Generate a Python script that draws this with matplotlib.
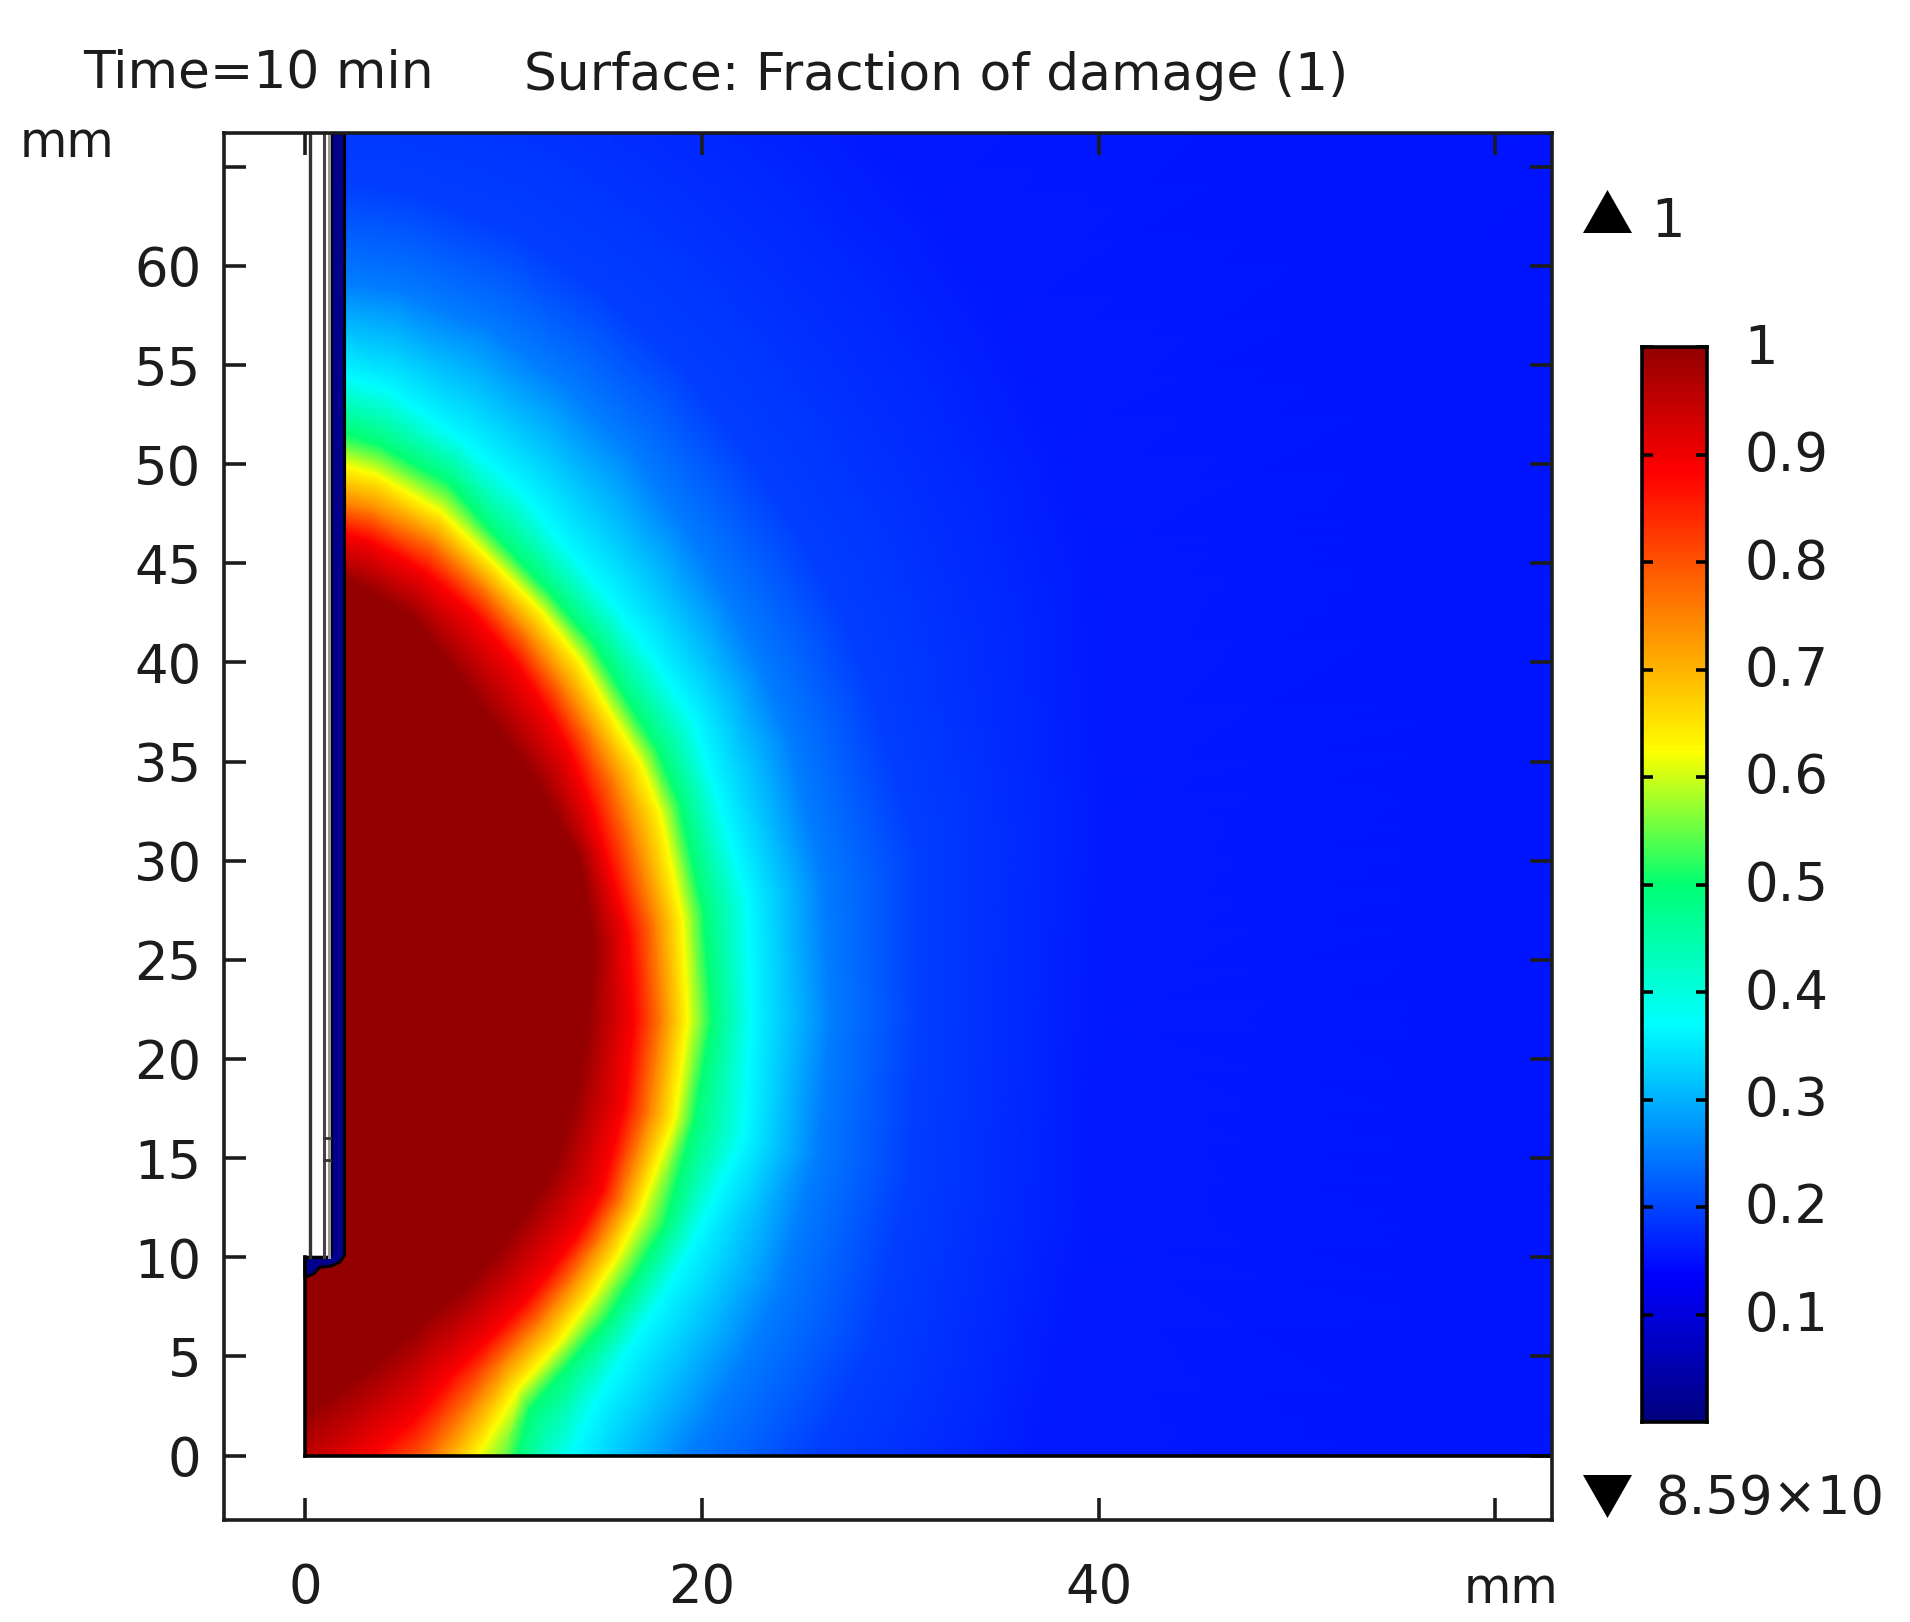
import numpy as np
import matplotlib
matplotlib.use("Agg")
import matplotlib.pyplot as plt
from matplotlib.colors import LinearSegmentedColormap
from matplotlib.patches import Polygon
from matplotlib.transforms import ScaledTranslation

# colour scale of the plot, value -> rgb
cmap_values = [0.0, 0.135, 0.37, 0.5, 0.624, 0.885, 1.0]
cmap_colors = [(0, 0, 0.5), (0, 0, 1), (0, 1, 1), (0, 1, 0.45), (1, 1, 0), (1, 0, 0), (0.58, 0, 0)]

# damage field: distance in mm from (0, 22) to each
# damage level along rays at these angles
ray_angles = [90, 82.5, 75, 67.5, 60, 52.5, 45, 37.5, 30, 15, 0, -15, -30, -37.5, -45, -52.5, -60, -67.5, -75, -90]
levels = [1.0, 1.0, 0.885, 0.75, 0.624, 0.5, 0.37, 0.2525, 0.194, 0.16, 0.15]
r_center = [0] * len(ray_angles)
r_dark = [23, 22, 21, 19.3, 18, 17.2, 16.7, 16.2, 16, 15.1, 14.3, 14.2, 14.6, 14.7, 14.9, 15.3, 15.8, 16.2, 17.2, 20]
r_red = [25, 24.4, 23.4, 22.2, 21, 19.9, 19, 18.1, 17.4, 16.9, 16.6, 16.7, 17.3, 17.5, 17.7, 18.1, 18.6, 19.4, 21, 25]
r_orange = [26.5, 25.9, 25, 23.6, 22.4, 21.3, 20.4, 19.7, 19, 18.3, 18, 18, 18.4, 18.6, 18.9, 19.4, 20, 21.4, 23.5, 27.5]
r_yellow = [28.5, 27.7, 26.5, 24.9, 23.8, 22.8, 21.8, 21.3, 20.7, 19.7, 19.3, 19.3, 19.5, 19.8, 20.2, 20.8, 21.5, 23.4, 26, 31]
r_green = [30.2, 29.2, 28, 26, 24.8, 23.9, 22.9, 22.4, 21.8, 20.8, 20.5, 20.3, 20.9, 21.05, 21.5, 21.9, 22.7, 26.3, 31, 36]
r_cyan = [33, 32, 30.3, 28.7, 27, 26, 25.2, 24.7, 23.8, 23.1, 22.5, 22.9, 22.6, 22.8, 23.25, 24.2, 26.2, 29.5, 36, 42]
r_sky = [37.5, 37, 36, 34.5, 33, 31.3, 30, 29, 28.2, 27, 26.5, 26.7, 27.5, 28, 28.7, 30, 32.5, 36.5, 42, 50]
r_blue = [42.5, 42, 41, 39.5, 38, 36.3, 35, 34, 33, 32, 31, 31.5, 33, 33.5, 34.5, 36, 38.5, 42.5, 48, 58]
r_deep = [60, 59, 58, 56, 54, 52, 50, 48, 46, 42, 40, 41, 43, 44.5, 46, 49, 52, 57, 62, 70]
r_far = [100] * len(ray_angles)

x_ticks = [0, 20, 40, 60]
x_labels = ["0", "20", "40", ""]
y_ticks = [0, 5, 10, 15, 20, 25, 30, 35, 40, 45, 50, 55, 60, 65]
y_labels = ["0", "5", "10", "15", "20", "25", "30", "35", "40", "45", "50", "55", "60", ""]
bar_ticks = [0.1, 0.2, 0.3, 0.4, 0.5, 0.6, 0.7, 0.8, 0.9, 1.0]
bar_labels = ["0.1", "0.2", "0.3", "0.4", "0.5", "0.6", "0.7", "0.8", "0.9", "1"]

W, H = 1910, 1622
FS = 38
INK = "#1c1c1c"
plt.rcParams["font.family"] = "DejaVu Sans"


def px_axes(left, top, right, bottom):
    return [left / W, 1 - bottom / H, (right - left) / W, (bottom - top) / H]


cmap = LinearSegmentedColormap.from_list("damage", list(zip(cmap_values, cmap_colors)))

fig = plt.figure(figsize=(W / 100, H / 100), dpi=100)
ax = fig.add_axes(px_axes(223.5, 133, 1552, 1520))
xmin, xmax = -4.1, 62.85
ymin, ymax = -3.25, 66.7
ax.set_xlim(xmin, xmax)
ax.set_ylim(ymin, ymax)

# field mesh, one column per damage level
radii = np.array([r_center, r_dark, r_red, r_orange, r_yellow, r_green, r_cyan, r_sky, r_blue, r_deep, r_far]).T
theta = np.deg2rad(ray_angles)[:, None]
mesh_x = radii * np.cos(theta)
mesh_y = 22 + radii * np.sin(theta)
mesh_c = np.tile(levels, (len(ray_angles), 1))
field = ax.pcolormesh(mesh_x, mesh_y, mesh_c, shading="gouraud", cmap=cmap, vmin=0, vmax=1)

outline = [(0, 0), (xmax, 0), (xmax, ymax), (2.0, ymax), (2.0, 10), (0, 10)]
clip = Polygon(outline, closed=True, transform=ax.transData, fc="none", ec="none")
ax.add_patch(clip)
field.set_clip_path(clip)

# probe wall, navy because the damage there is about zero
wall = [(1.33, ymax), (2.0, ymax), (2.0, 10.1), (1.75, 9.75), (1.3, 9.55), (0.75, 9.5), (0.42, 9.15),
        (0, 9.0), (0, 10), (1.2, 10), (1.33, 10.2)]
ax.add_patch(Polygon(wall, closed=True, fc="#00008c", ec="black", lw=2.2, zorder=3))
ax.plot([0, 0], [0, 10], color="black", lw=2.6, zorder=4)
ax.plot([0, xmax], [0, 0], color="black", lw=2.6, zorder=4)
ax.plot([0, 1.2], [10, 10], color="black", lw=2.2, zorder=4)
ax.plot([0.25, 0.25], [10, ymax], color="#333333", lw=2.4, zorder=4)
ax.plot([0.95, 0.95], [10, ymax], color="#444444", lw=2.2, zorder=4)
ax.plot([1.2, 1.2], [10, ymax], color="#999999", lw=2.2, zorder=4)
ax.plot([0.95, 1.25], [16, 16], color="#333333", lw=2, zorder=4)
ax.plot([0.95, 1.25], [14.9, 14.9], color="#333333", lw=2, zorder=4)

ax.set_xticks(x_ticks)
ax.set_xticklabels(x_labels)
ax.set_yticks(y_ticks)
ax.set_yticklabels(y_labels)
ax.tick_params(axis="both", direction="in", length=16, width=2.6, color=INK, labelsize=FS, labelcolor=INK,
               top=True, right=True)
ax.tick_params(axis="x", pad=30)
ax.tick_params(axis="y", pad=16)
for sp in ax.spines.values():
    sp.set_linewidth(2.6)
    sp.set_color(INK)
    sp.set_zorder(5)

# colour bar
bar = fig.add_axes(px_axes(1642, 347, 1707, 1422))
bar.imshow(np.linspace(1, 0, 512)[:, None], extent=(0, 1, 0, 1), aspect="auto", cmap=cmap, vmin=0, vmax=1)
bar.set_xticks([])
bar.set_yticks(bar_ticks)
bar.set_yticklabels(bar_labels)
bar.tick_params(axis="y", direction="in", length=8, width=2.6, color="black", labelsize=FS, labelcolor=INK,
                left=True, right=True, labelleft=False, labelright=True, pad=27)
# labels sit a little above their ticks in the reference
lift = ScaledTranslation(0, 4 / 100, fig.dpi_scale_trans)
for lbl in bar.get_yticklabels():
    lbl.set_transform(lbl.get_transform() + lift)
for sp in bar.spines.values():
    sp.set_linewidth(2.6)
    sp.set_color("black")

# texts and range markers, placed in picture pixels
over = fig.add_axes([0, 0, 1, 1])
over.set_xlim(0, W)
over.set_ylim(H, 0)
over.axis("off")
over.text(83, 73, "Time=10 min", fontsize=37.4, color=INK, va="center", ha="left")
over.text(524, 76, "Surface: Fraction of damage (1)", fontsize=37.4, color=INK, va="center", ha="left")
over.text(20, 143, "mm", fontsize=35, color=INK, va="center", ha="left")
over.text(1558, 1589, "mm", fontsize=35, color=INK, va="center", ha="right")
over.text(1651, 222, "1", fontsize=FS, color=INK, va="center", ha="left")
over.text(1655, 1499, "8.59×10", fontsize=FS, color=INK, va="center", ha="left")
over.add_patch(Polygon([(1583, 233), (1632, 233), (1607.5, 190)], closed=True, fc="black", ec="none"))
over.add_patch(Polygon([(1583, 1475), (1632, 1475), (1607.5, 1518)], closed=True, fc="black", ec="none"))

fig.savefig("out.png", dpi=100)
